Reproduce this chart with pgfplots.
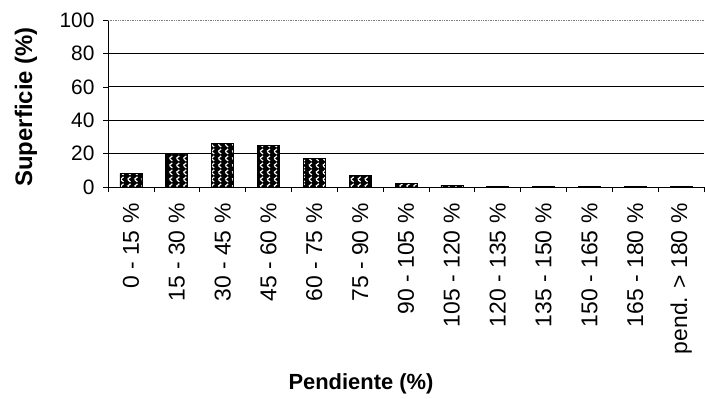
\documentclass[border=0pt]{standalone}
\usepackage{pgfplots}
\pgfplotsset{compat=1.18}
\usepackage{fontspec}
\setmainfont{Liberation Sans}
\usetikzlibrary{patterns}
\pgfdeclarepatternformonly{herring}{\pgfqpoint{-1pt}{-1pt}}{\pgfqpoint{8pt}{8pt}}{\pgfqpoint{7pt}{7pt}}{
  \pgfsetlinewidth{1.2pt}
  \pgfpathmoveto{\pgfqpoint{5pt}{6pt}}\pgfpathlineto{\pgfqpoint{2pt}{3.5pt}}
  \pgfpathmoveto{\pgfqpoint{2.6pt}{2.8pt}}\pgfpathlineto{\pgfqpoint{5pt}{1pt}}
  \pgfusepath{stroke}}
\begin{document}
\begin{tikzpicture}
\path[use as bounding box] (-108bp,-212bp) rectangle (597bp,187bp);
\begin{axis}[
  at={(0,0)}, anchor=south west,
  scale only axis, width=596bp, height=167bp,
  xmin=-0.5, xmax=12.5, ymin=0, ymax=100,
  axis lines=left,
  axis line style={-, black, line width=0.8bp},
  xtick={-0.5,0.5,...,12.5},
  x tick label as interval,
  xticklabels={0 - 15 \%,15 - 30 \%,30 - 45 \%,45 - 60 \%,60 - 75 \%,75 - 90 \%,90 - 105 \%,105 - 120 \%,120 - 135 \%,135 - 150 \%,150 - 165 \%,165 - 180 \%,pend. > 180 \%},
  xticklabel style={yshift=-8bp, rotate=90, anchor=east, font=\fontsize{23}{23}\selectfont},
  ytick={0,20,40,60,80},
  extra y ticks={100},
  extra y tick style={grid style={densely dotted, gray, line width=0.6bp}},
  yticklabel style={xshift=-5bp, font=\fontsize{21}{21}\selectfont},
  /pgf/number format/assume math mode=true,
  ymajorgrids,
  grid style={black, line width=0.7bp},
  tick align=outside,
  major tick length=5bp,
  tick style={black, line width=0.6bp},
  ylabel={Superficie (\%)},
  xlabel={Pendiente (\%)},
  ylabel style={at={(axis description cs:-0.1376,0.48)}, anchor=center, font=\bfseries\fontsize{24}{24}\selectfont},
  xlabel style={at={(axis description cs:0.4245,-1.18)}, anchor=center, font=\bfseries\fontsize{22}{22}\selectfont},
  clip=false,
]
\addplot[ybar, bar width=22bp, draw=black, line width=0.6bp, fill=black,
  postaction={pattern=herring, pattern color=white}]
  coordinates {(0,8) (1,20) (2,26) (3,25) (4,17) (5,7) (6,2) (7,1) (8,0.2) (9,0.2) (10,0.2) (11,0.2) (12,0.5)};
\end{axis}
\end{tikzpicture}
\end{document}
